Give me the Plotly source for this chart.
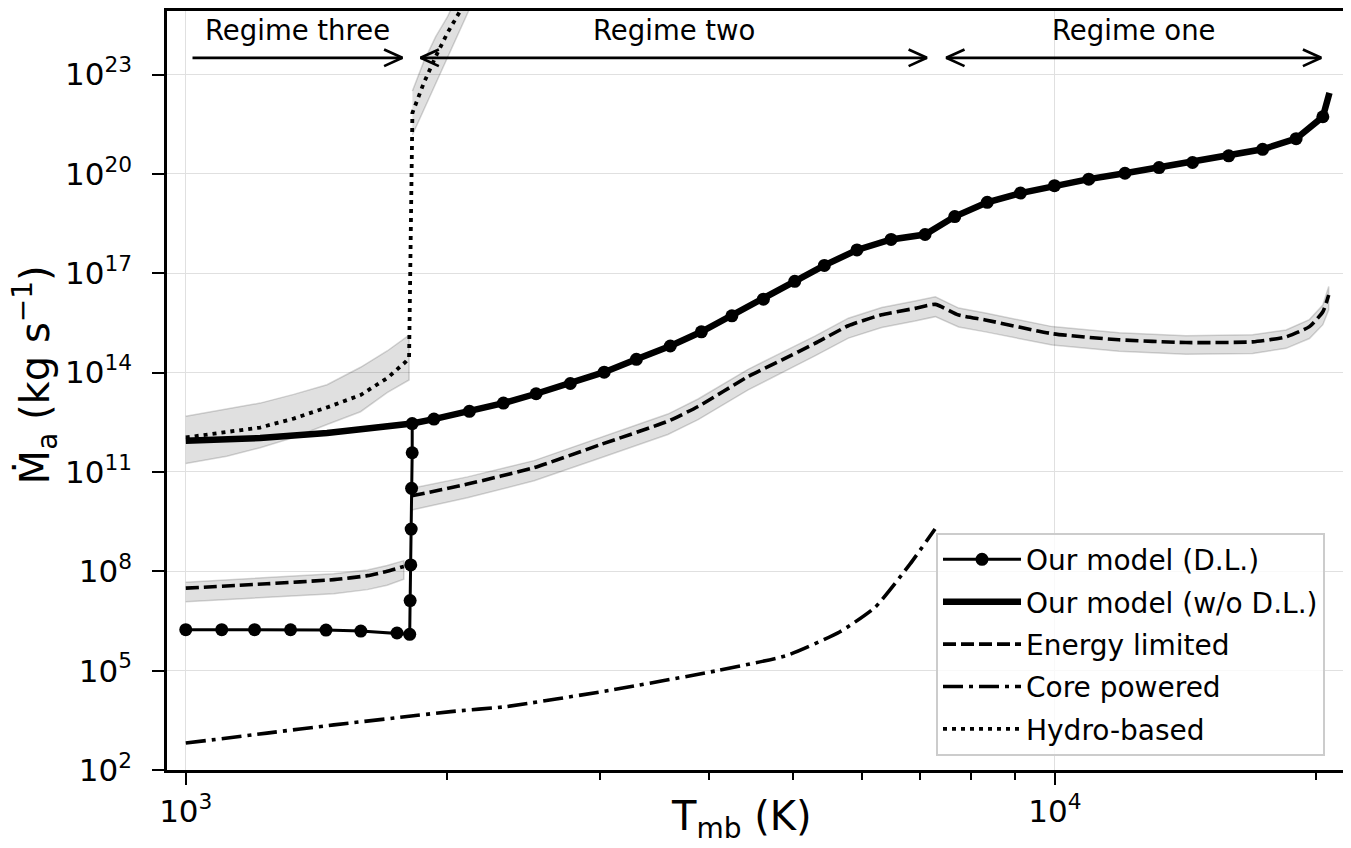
import numpy as np
import plotly.graph_objects as go

# --- data (T in K, mass-loss rate in kg/s) ---

# our model with dust/limiting (markers), regime three plus the jump
t_dl_low = [1000, 1100, 1200, 1320, 1450, 1590, 1750, 1810,
            1812, 1815, 1817, 1819, 1822, 1822]
mdot_dl_low = [1.73e6, 1.73e6, 1.73e6, 1.72e6, 1.68e6, 1.57e6, 1.37e6, 1.25e6,
               1.31e7, 1.56e8, 1.88e9, 3.2e10, 3.8e11, 2.9e12]

# regimes two and one, shared by both versions of our model
t_shared = [1930, 2120, 2320, 2530, 2770, 3030, 3300, 3610, 3920, 4250,
            4620, 5020, 5430, 5920, 6480, 7090, 7670, 8360, 9130, 9990,
            10940, 12040, 13180, 14400, 15850, 17340, 18950, 20340]
mdot_shared = [3.96e12, 6.76e12, 1.20e13, 2.30e13, 4.69e13, 1.03e14, 2.52e14,
               6.37e14, 1.71e15, 5.19e15, 1.65e16, 5.73e16, 1.73e17, 5.07e17,
               1.05e18, 1.48e18, 5.15e18, 1.39e19, 2.64e19, 4.41e19, 6.95e19,
               1.05e20, 1.56e20, 2.21e20, 3.52e20, 5.55e20, 1.16e21, 5.32e21]

# our model without D.L. in regime three, and its end point
t_nodl_low = [1000, 1218, 1454, 1661, 1767, 1822]
mdot_nodl_low = [8.7e11, 1.06e12, 1.5e12, 2.1e12, 2.6e12, 2.9e12]
t_nodl_end = [20700]
mdot_nodl_end = [2.8e22]

# energy limited, regime three
t_el_low = [1000, 1240, 1480, 1618, 1705, 1782]
el_low = [3.1e7, 4.2e7, 5.6e7, 7.4e7, 1.0e8, 1.4e8]
el_low_hi = [4.7e7, 6.3e7, 8.4e7, 1.1e8, 1.5e8, 2.1e8]
el_low_lo = [1.2e7, 1.6e7, 2.1e7, 2.8e7, 3.8e7, 5.8e7]

# energy limited, regimes two and one
t_el_high = [1820, 2109, 2517, 3005, 3587, 3886, 4437, 4848, 5295, 5786, 6321,
             6906, 7285, 7750, 8318, 9929, 11850, 14150, 16890, 18450, 19630,
             20340, 20660]
el_high = [1.9e10, 4.3e10, 1.35e11, 6.8e11, 3.4e12, 9.5e12, 7.6e13, 2.4e14,
           7.6e14, 2.6e15, 5.6e15, 8.7e15, 1.15e16, 5.5e15, 3.9e15, 1.5e15,
           9.8e14, 8.1e14, 8.5e14, 1.2e15, 2.45e15, 6.9e15, 2.2e16]
el_high_hi = [3.2e10, 7.1e10, 2.2e11, 1.1e12, 5.6e12, 1.6e13, 1.26e14, 4.0e14,
              1.26e15, 4.4e15, 9.3e15, 1.45e16, 1.95e16, 8.9e15, 6.3e15, 2.45e15,
              1.6e15, 1.3e15, 1.4e15, 1.95e15, 4.0e15, 1.1e16, 4.0e16]
el_high_lo = [7.1e9, 1.66e10, 5.4e10, 2.7e11, 1.35e12, 3.8e12, 3.0e13, 9.8e13,
              3.2e14, 1.1e15, 2.3e15, 3.6e15, 4.9e15, 2.4e15, 1.7e15, 6.8e14,
              4.4e14, 3.6e14, 3.8e14, 5.4e14, 1.07e15, 2.8e15, 7.9e15]

# core powered
t_cp = [1000, 1240, 1480, 1766, 2018, 2336, 3090, 4088, 4922, 5660, 6214, 6819, 7280]
cp = [6.5e2, 1.3e3, 2.3e3, 3.9e3, 5.8e3, 8.2e3, 2.6e4, 1.0e5, 2.9e5, 1.5e6,
      8.3e6, 1.7e8, 1.9e9]

# hydro-based
t_hy = [1000, 1115, 1218, 1331, 1454, 1589, 1705, 1790, 1807,
        1823, 1879, 1939, 2000, 2072, 2200]
hy = [1.1e12, 1.6e12, 2.2e12, 4.1e12, 8.9e12, 2.1e13, 6.8e13, 2.1e14, 2.8e14,
      7.0e21, 5.6e22, 3.5e23, 1.8e24, 8.9e24, 2.5e26]
t_hyb_low = [1000, 1115, 1218, 1331, 1454, 1589, 1705, 1807]
hyb_low_hi = [4.8e12, 7.8e12, 1.2e13, 2.2e13, 4.3e13, 1.45e14, 4.5e14, 1.35e15]
hyb_low_lo = [1.8e11, 3.0e11, 5.4e11, 1.1e12, 2.7e12, 6.6e12, 2.5e13, 6.0e13]
t_hyb_high = [1823, 1879, 1939, 2000, 2072, 2200]
hyb_high_hi = [3.2e22, 2.5e23, 1.4e24, 5.5e24, 3.9e25, 1e27]
hyb_high_lo = [1.5e21, 9.1e21, 5.5e22, 3.2e23, 2.5e24, 8e25]

# regime arrows
regime_names = ["Regime three", "Regime two", "Regime one"]
regime_lo = [1018, 1863, 7500]
regime_hi = [1775, 7124, 20250]
regime_two_sided = [False, True, True]
arrow_y = 3.2e23
label_y = 2.2e24

y_tick_exp = [2, 5, 8, 11, 14, 17, 20, 23]
x_tick_exp = [3, 4]
x_minor = [2000, 3000, 4000, 5000, 6000, 7000, 8000, 9000, 20000]

FONT = "DejaVu Sans"
BAND_FILL = "rgba(0,0,0,0.12)"
BAND_EDGE = "rgba(0,0,0,0.16)"

fig = go.Figure()


def add_band(t, hi, lo):
    fig.add_trace(go.Scatter(
        x=list(t) + list(t)[::-1], y=list(hi) + list(lo)[::-1],
        fill="toself", fillcolor=BAND_FILL, mode="lines",
        line=dict(color=BAND_EDGE, width=1.5),
        showlegend=False, hoverinfo="skip"))


add_band(t_el_low, el_low_hi, el_low_lo)
add_band(t_el_high, el_high_hi, el_high_lo)
add_band(t_hyb_low, hyb_low_hi, hyb_low_lo)
add_band(t_hyb_high, hyb_high_hi, hyb_high_lo)

fig.add_trace(go.Scatter(
    x=t_el_low + [None] + t_el_high, y=el_low + [None] + el_high,
    mode="lines", name="Energy limited", legendrank=3, legendgroup="el",
    line=dict(color="black", width=3.6, dash="13px,5px",
              shape="spline", smoothing=0.5)))

fig.add_trace(go.Scatter(
    x=t_cp, y=cp, mode="lines", name="Core powered", legendrank=4,
    legendgroup="cp",
    line=dict(color="black", width=3.6, dash="20px,6px,4px,6px",
              shape="spline", smoothing=0.5)))

fig.add_trace(go.Scatter(
    x=t_hy, y=hy, mode="lines", name="Hydro-based", legendrank=5,
    legendgroup="hy",
    line=dict(color="black", width=3.8, dash="4px,5px")))

fig.add_trace(go.Scatter(
    x=t_nodl_low + t_shared + t_nodl_end,
    y=mdot_nodl_low + mdot_shared + mdot_nodl_end,
    mode="lines", name="Our model (w/o D.L.)", legendrank=2, legendgroup="nodl",
    line=dict(color="black", width=6.5)))

fig.add_trace(go.Scatter(
    x=t_dl_low + t_shared, y=mdot_dl_low + mdot_shared,
    mode="lines+markers", name="Our model (D.L.)", legendrank=1,
    legendgroup="dl",
    line=dict(color="black", width=3),
    marker=dict(color="black", size=13)))

# regime arrows with open heads, drawn as plain lines
hx, hy_ = 10 ** 0.021, 10 ** 0.25
for name, lo, hi, both in zip(regime_names, regime_lo, regime_hi, regime_two_sided):
    xs = [lo, hi, None, hi / hx, hi, hi / hx]
    ys = [arrow_y, arrow_y, None, arrow_y * hy_, arrow_y, arrow_y / hy_]
    if both:
        xs += [None, lo * hx, lo, lo * hx]
        ys += [None, arrow_y * hy_, arrow_y, arrow_y / hy_]
    fig.add_trace(go.Scatter(x=xs, y=ys, mode="lines",
                             line=dict(color="black", width=2.7),
                             showlegend=False, hoverinfo="skip"))
    fig.add_annotation(x=np.log10(np.sqrt(lo * hi)), y=np.log10(label_y),
                       text=name, showarrow=False,
                       font=dict(family=FONT, size=27.5, color="black"))

fig.add_annotation(x=0.488, y=-0.064, xref="paper", yref="paper",
                   xanchor="center", yanchor="middle",
                   text="T<sub>mb</sub> (K)", showarrow=False,
                   font=dict(family=FONT, size=40, color="black"))
fig.add_annotation(x=-0.112, y=0.52, xref="paper", yref="paper",
                   xanchor="center", yanchor="middle", textangle=-90,
                   text="\u1e40<sub>a</sub> (kg s<sup>\u22121</sup>)", showarrow=False,
                   font=dict(family=FONT, size=40, color="black"))

axis_common = dict(
    showline=True, linecolor="black", linewidth=2.5, mirror=True,
    ticks="outside", ticklen=12, tickwidth=2.2, tickcolor="black",
    showgrid=True, gridcolor="#e0e0e0", gridwidth=1.4, zeroline=False,
    tickfont=dict(family=FONT, size=31, color="black"),
)

fig.update_xaxes(
    type="log", range=[np.log10(951.5), np.log10(21570)],
    tickvals=[10.0 ** e for e in x_tick_exp],
    ticktext=[f"10<sup>{e}</sup>" for e in x_tick_exp],
    minor=dict(ticks="outside", tickvals=x_minor, ticklen=7,
               tickwidth=1.6, tickcolor="black", showgrid=False),
    **axis_common)
fig.update_yaxes(
    type="log", range=[2, 24.92],
    tickvals=[10.0 ** e for e in y_tick_exp],
    ticktext=[f"10<sup>{e}</sup>" for e in y_tick_exp],
    ticklabelstandoff=14,
    **axis_common)

# the page adds an 8 px body margin, so the figure is 8 px smaller here
fig.update_layout(
    width=1343, height=840,
    margin=dict(l=159, r=6, t=0, b=77.5),
    plot_bgcolor="white", paper_bgcolor="white",
    font=dict(family=FONT, color="black"),
    legend=dict(x=0.6528, y=0.019, xanchor="left", yanchor="bottom",
                bgcolor="rgba(255,255,255,0.8)", bordercolor="#cccccc",
                borderwidth=2, itemwidth=78, tracegroupgap=3,
                font=dict(family=FONT, size=28, color="black")),
)

fig.write_html("out.html")
